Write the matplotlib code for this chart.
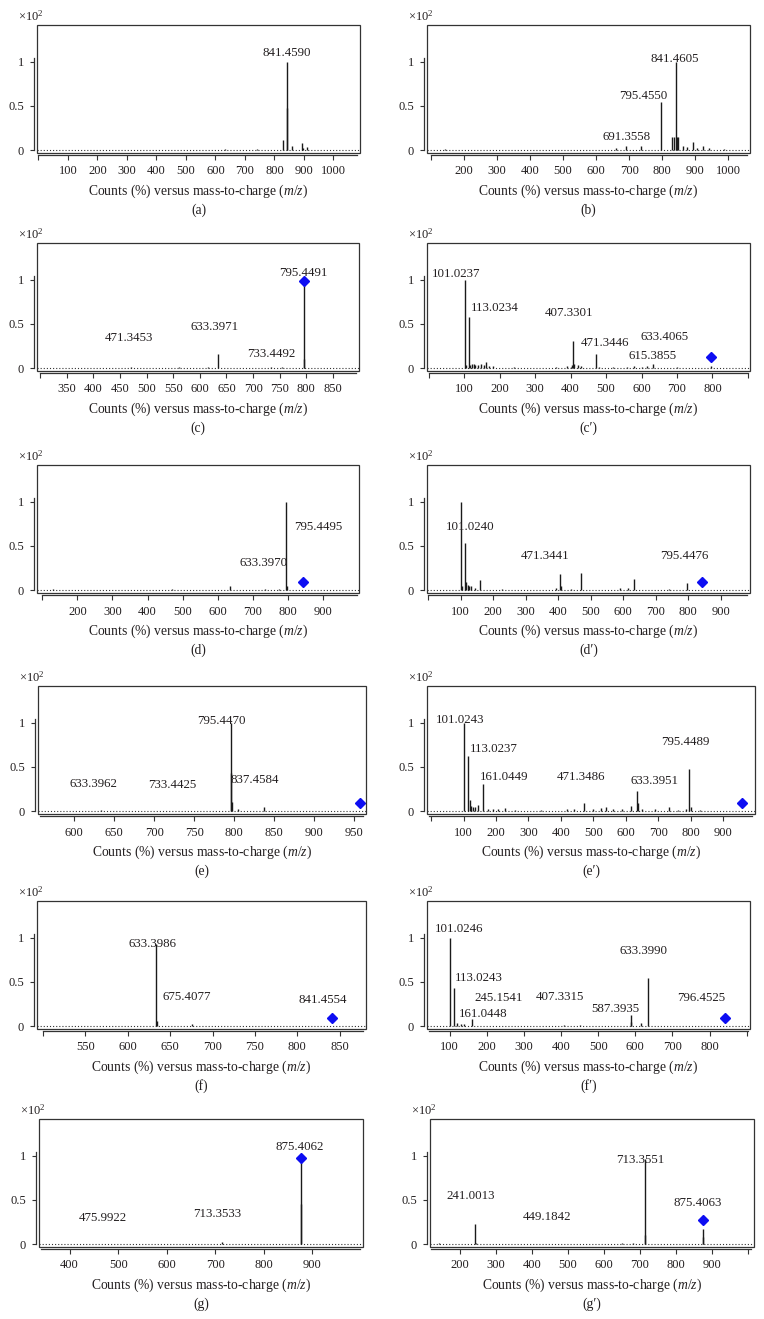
import matplotlib
matplotlib.use("Agg")
import matplotlib.pyplot as plt
from matplotlib.patches import Rectangle

plt.rcParams['font.family'] = ['Liberation Serif', 'DejaVu Serif']
plt.rcParams['mathtext.fontset'] = 'custom'
plt.rcParams['mathtext.rm'] = 'Liberation Serif'
plt.rcParams['mathtext.it'] = 'Liberation Serif:italic'

# ---- peak data (m/z, relative counts x10^2) ----
a_mz = [633.4, 740.4, 830.5, 841.459, 842.46, 859.4, 893.4, 898.0, 910.4]
a_int = [0.01, 0.01, 0.11, 1.00, 0.48, 0.045, 0.075, 0.02, 0.03]
a_labels = ["841.4590"]

b_mz = [143, 661, 691.36, 736.4, 795.455, 830.5, 834, 841.46, 843.5, 846.5, 862, 876, 892, 905, 922, 940, 985]
b_int = [0.01, 0.02, 0.04, 0.04, 0.54, 0.15, 0.15, 1.00, 0.15, 0.15, 0.05, 0.03, 0.09, 0.02, 0.04, 0.02, 0.01]
b_labels = ["841.4605", "795.4550", "691.3558"]

c_mz = [471.35, 560, 615.4, 633.40, 733.45, 755, 795.449, 796.45]
c_int = [0.015, 0.01, 0.015, 0.16, 0.015, 0.01, 1.00, 0.10]
c_labels = ["795.4491", "471.3453", "633.3971", "733.4492"]
c_prec = (795.449, 0.985)

c2_mz = [101.02, 105, 113.02, 117, 121, 127, 131, 139, 147, 157, 161, 170, 180, 240, 320, 360,
         389, 400, 405, 407.33, 409.3, 420, 430, 471.34, 480, 520, 560, 580, 600, 615.39, 633.41,
         700, 745, 795]
c2_int = [1.00, 0.03, 0.585, 0.03, 0.04, 0.05, 0.03, 0.03, 0.04, 0.03, 0.07, 0.02, 0.02, 0.01, 0.005, 0.01,
          0.02, 0.01, 0.03, 0.31, 0.05, 0.03, 0.02, 0.16, 0.01, 0.01, 0.01, 0.02, 0.01, 0.02, 0.04,
          0.01, 0.005, 0.02]
c2_labels = ["101.0237", "113.0234", "407.3301", "471.3446", "633.4065", "615.3855"]
c2_prec = (795.449, 0.13)

d_mz = [130, 470, 633.40, 735, 775, 795.45, 797]
d_int = [0.01, 0.01, 0.05, 0.01, 0.01, 1.00, 0.05]
d_labels = ["795.4495", "633.3970"]
d_prec = (841.46, 0.095)

d2_mz = [101.02, 105, 113.02, 118, 122, 127, 131, 145, 161.04, 228, 395, 407.33, 410, 440,
         471.34, 590, 615, 633.4, 740, 795.45]
d2_int = [1.00, 0.04, 0.53, 0.09, 0.06, 0.05, 0.04, 0.02, 0.11, 0.01, 0.02, 0.18, 0.05, 0.01,
          0.195, 0.02, 0.02, 0.125, 0.01, 0.085]
d2_labels = ["101.0240", "471.3441", "795.4476"]
d2_prec = (841.46, 0.095)

e_mz = [633.4, 733.4, 795.447, 796.45, 797.45, 805, 837.46]
e_int = [0.01, 0.005, 1.00, 0.43, 0.10, 0.02, 0.04]
e_labels = ["795.4470", "633.3962", "733.4425", "837.4584"]
e_prec = (957.5, 0.09)

e2_mz = [101.02, 113.02, 119, 124, 128, 135, 143, 161.04, 175, 190, 205, 227, 260, 300, 340, 420,
         440, 471.35, 500, 525, 540, 560, 590, 615, 633.40, 637, 650, 690, 735, 760, 785, 795.45,
         800, 830, 880]
e2_int = [1.00, 0.62, 0.12, 0.06, 0.05, 0.04, 0.07, 0.31, 0.02, 0.02, 0.02, 0.03, 0.01, 0.005, 0.01, 0.02,
          0.02, 0.09, 0.02, 0.03, 0.04, 0.02, 0.02, 0.06, 0.23, 0.09, 0.02, 0.02, 0.04, 0.01, 0.02, 0.48,
          0.04, 0.01, 0.005]
e2_labels = ["101.0243", "113.0237", "161.0449", "471.3486", "633.3951", "795.4489"]
e2_prec = (957.5, 0.095)

f_mz = [633.3986, 634.4, 675.41]
f_int = [0.93, 0.06, 0.025]
f_labels = ["633.3986", "675.4077", "841.4554"]
f_prec = (841.46, 0.087)

f2_mz = [101.02, 113.02, 120, 130, 140, 161.04, 245.15, 407.33, 450, 587.39, 589.4, 615, 633.40]
f2_int = [1.00, 0.43, 0.03, 0.02, 0.02, 0.08, 0.005, 0.01, 0.01, 0.13, 0.04, 0.03, 0.54]
f2_labels = ["101.0246", "113.0243", "245.1541", "161.0448", "407.3315", "587.3935", "633.3990", "796.4525"]
f2_prec = (841.46, 0.092)

g_mz = [475.99, 713.35, 875.406, 876.41]
g_int = [0.003, 0.02, 1.00, 0.45]
g_labels = ["875.4062", "475.9922", "713.3533"]
g_prec = (875.406, 0.98)

g2_mz = [140, 241.0, 243, 650, 680, 713.355, 715, 875.406, 877]
g2_int = [0.01, 0.23, 0.01, 0.01, 0.01, 0.96, 0.10, 0.17, 0.08]
g2_labels = ["713.3551", "241.0013", "449.1842", "875.4063"]
g2_prec = (875.406, 0.27)

# ---- layout (pixels / data coords of text) ----
W, H = 764, 1319
row_top = [25, 243, 465, 686, 901, 1119]
BOX_H = 128

panels = [
    dict(tag="(a)", mz=a_mz, y=a_int, labels=a_labels, prec=None, row=0, box=(37, 360),
         xlim=(-5, 1090), ticks=list(range(0, 1001, 100)), hide=[0], span=(0, 1080),
         lpos=[(842, 1.10)]),
    dict(tag="(b)", mz=b_mz, y=b_int, labels=b_labels, prec=None, row=0, box=(427, 750),
         xlim=(89, 1065), ticks=list(range(100, 1001, 100)), hide=[100], span=(100, 1055),
         lpos=[(839, 1.03), (743, 0.61), (693, 0.15)]),
    dict(tag="(c)", mz=c_mz, y=c_int, labels=c_labels, prec=c_prec, row=1, box=(37, 359),
         xlim=(294, 899), ticks=list(range(300, 851, 50)), hide=[300], span=(300, 893),
         lpos=[(795, 1.08), (466, 0.34), (628, 0.47), (734, 0.16)]),
    dict(tag="(c\u2032)", mz=c2_mz, y=c2_int, labels=c2_labels, prec=c2_prec, row=1, box=(427, 750),
         xlim=(-5, 906), ticks=list(range(0, 901, 100)), hide=[0, 900], span=(0, 900),
         lpos=[(77, 1.07), (185, 0.68), (395, 0.62), (496, 0.28), (664, 0.35), (631, 0.14)]),
    dict(tag="(d)", mz=d_mz, y=d_int, labels=d_labels, prec=d_prec, row=2, box=(37, 359),
         xlim=(85, 1002), ticks=list(range(100, 901, 100)), hide=[100], span=(100, 995),
         lpos=[(886, 0.72), (729, 0.31)]),
    dict(tag="(d\u2032)", mz=d2_mz, y=d2_int, labels=d2_labels, prec=d2_prec, row=2, box=(427, 750),
         xlim=(-3, 990), ticks=list(range(0, 901, 100)), hide=[0], span=(0, 982),
         lpos=[(130, 0.72), (361, 0.39), (789, 0.39)]),
    dict(tag="(e)", mz=e_mz, y=e_int, labels=e_labels, prec=e_prec, row=3, box=(38, 366),
         xlim=(554.6, 964.6), ticks=list(range(600, 951, 50)), hide=[], span=(556.5, 961),
         lpos=[(784, 1.02), (624, 0.31), (722, 0.29), (825, 0.35)]),
    dict(tag="(e\u2032)", mz=e2_mz, y=e2_int, labels=e2_labels, prec=e2_prec, row=3, box=(427, 755),
         xlim=(-13, 999), ticks=list(range(0, 901, 100)), hide=[0], span=(-6, 990),
         lpos=[(88, 1.03), (192, 0.70), (225, 0.39), (463, 0.39), (688, 0.34), (785, 0.78)]),
    dict(tag="(f)", mz=f_mz, y=f_int, labels=f_labels, prec=f_prec, row=4, box=(37, 366),
         xlim=(493, 881), ticks=list(range(500, 851, 50)), hide=[500], span=(500, 877),
         lpos=[(629, 0.93), (670, 0.33), (830, 0.29)]),
    dict(tag="(f\u2032)", mz=f2_mz, y=f2_int, labels=f2_labels, prec=f2_prec, row=4, box=(427, 750),
         xlim=(39, 909), ticks=list(range(100, 901, 100)), hide=[900], span=(45, 903),
         lpos=[(126, 1.10), (178, 0.55), (232, 0.32), (191, 0.14), (396, 0.33), (546, 0.195),
               (622, 0.85), (777, 0.32)]),
    dict(tag="(g)", mz=g_mz, y=g_int, labels=g_labels, prec=g_prec, row=5, box=(39, 363),
         xlim=(337, 1004), ticks=list(range(400, 901, 100)), hide=[], span=(342, 998),
         lpos=[(874, 1.10), (469, 0.30), (703, 0.34)]),
    dict(tag="(g\u2032)", mz=g2_mz, y=g2_int, labels=g2_labels, prec=g2_prec, row=5, box=(430, 754),
         xlim=(116, 1018), ticks=list(range(200, 1001, 100)), hide=[1000], span=(118, 1010),
         lpos=[(700, 0.95), (228, 0.54), (442, 0.31), (860, 0.47)]),
]

TXT = '#231f20'
fig = plt.figure(figsize=(W / 100, H / 100), dpi=100)

for p in panels:
    l, r = p['box']
    top = row_top[p['row']]
    ax = fig.add_axes([l / W, 1 - (top + BOX_H) / H, (r - l) / W, BOX_H / H])
    ax.set_xlim(*p['xlim'])
    ax.set_ylim(-0.034, 1.42)
    ax.patch.set_alpha(0)

    # peaks
    ax.vlines(p['mz'], 0, p['y'], color='#1a1a1a', lw=1.0, zorder=3)
    ax.axhline(0, color='#333333', lw=0.8, ls=(0, (1, 1.8)), zorder=2)
    if p['prec'] is not None:
        ax.plot([p['prec'][0]], [p['prec'][1]], 'D', color='#0d0df2', ms=5.3, zorder=6)

    for txt, (tx, ty) in zip(p['labels'], p['lpos']):
        ax.text(tx, ty, txt, ha='center', va='center', fontsize=9.3, color=TXT, zorder=7)

    # frame box plus detached axes
    ax.add_patch(Rectangle((0, 0), 1, 1, transform=ax.transAxes, fill=False,
                           lw=0.9, ec='#333333', clip_on=False, zorder=8))
    for s in ['top', 'right']:
        ax.spines[s].set_visible(False)
    ax.spines['left'].set_position(('outward', 2.2))
    ax.spines['left'].set_bounds(0, 1.05)
    ax.spines['bottom'].set_position(('outward', 1.5))
    ax.spines['bottom'].set_bounds(*p['span'])
    for s in ['left', 'bottom']:
        ax.spines[s].set_linewidth(0.9)
        ax.spines[s].set_color('#333333')

    ax.set_yticks([0, 0.5, 1])
    ax.set_yticklabels(['0', '0.5', '1'])
    ax.set_xticks(p['ticks'])
    ax.set_xticklabels(['' if t in p['hide'] else str(t) for t in p['ticks']])
    ax.tick_params(axis='y', direction='out', length=3, width=0.8, pad=4,
                   labelsize=9, colors='#333333', labelcolor=TXT)
    ax.tick_params(axis='x', direction='out', length=3.5, width=0.8, pad=4,
                   labelsize=9, colors='#333333', labelcolor=TXT)

    cx = (l + r) / 2
    fig.text((l - 19) / W, 1 - (top - 8.5) / H, '×10$^2$', ha='left', va='center',
             fontsize=9, color=TXT)
    fig.text(cx / W, 1 - (top + 166) / H, 'Counts (%) versus mass-to-charge ($m/z$)',
             ha='center', va='center', fontsize=9.8, color=TXT)
    fig.text(cx / W, 1 - (top + 185) / H, p['tag'], ha='center', va='center',
             fontsize=9.8, color=TXT)

fig.savefig('out.png', dpi=100)
